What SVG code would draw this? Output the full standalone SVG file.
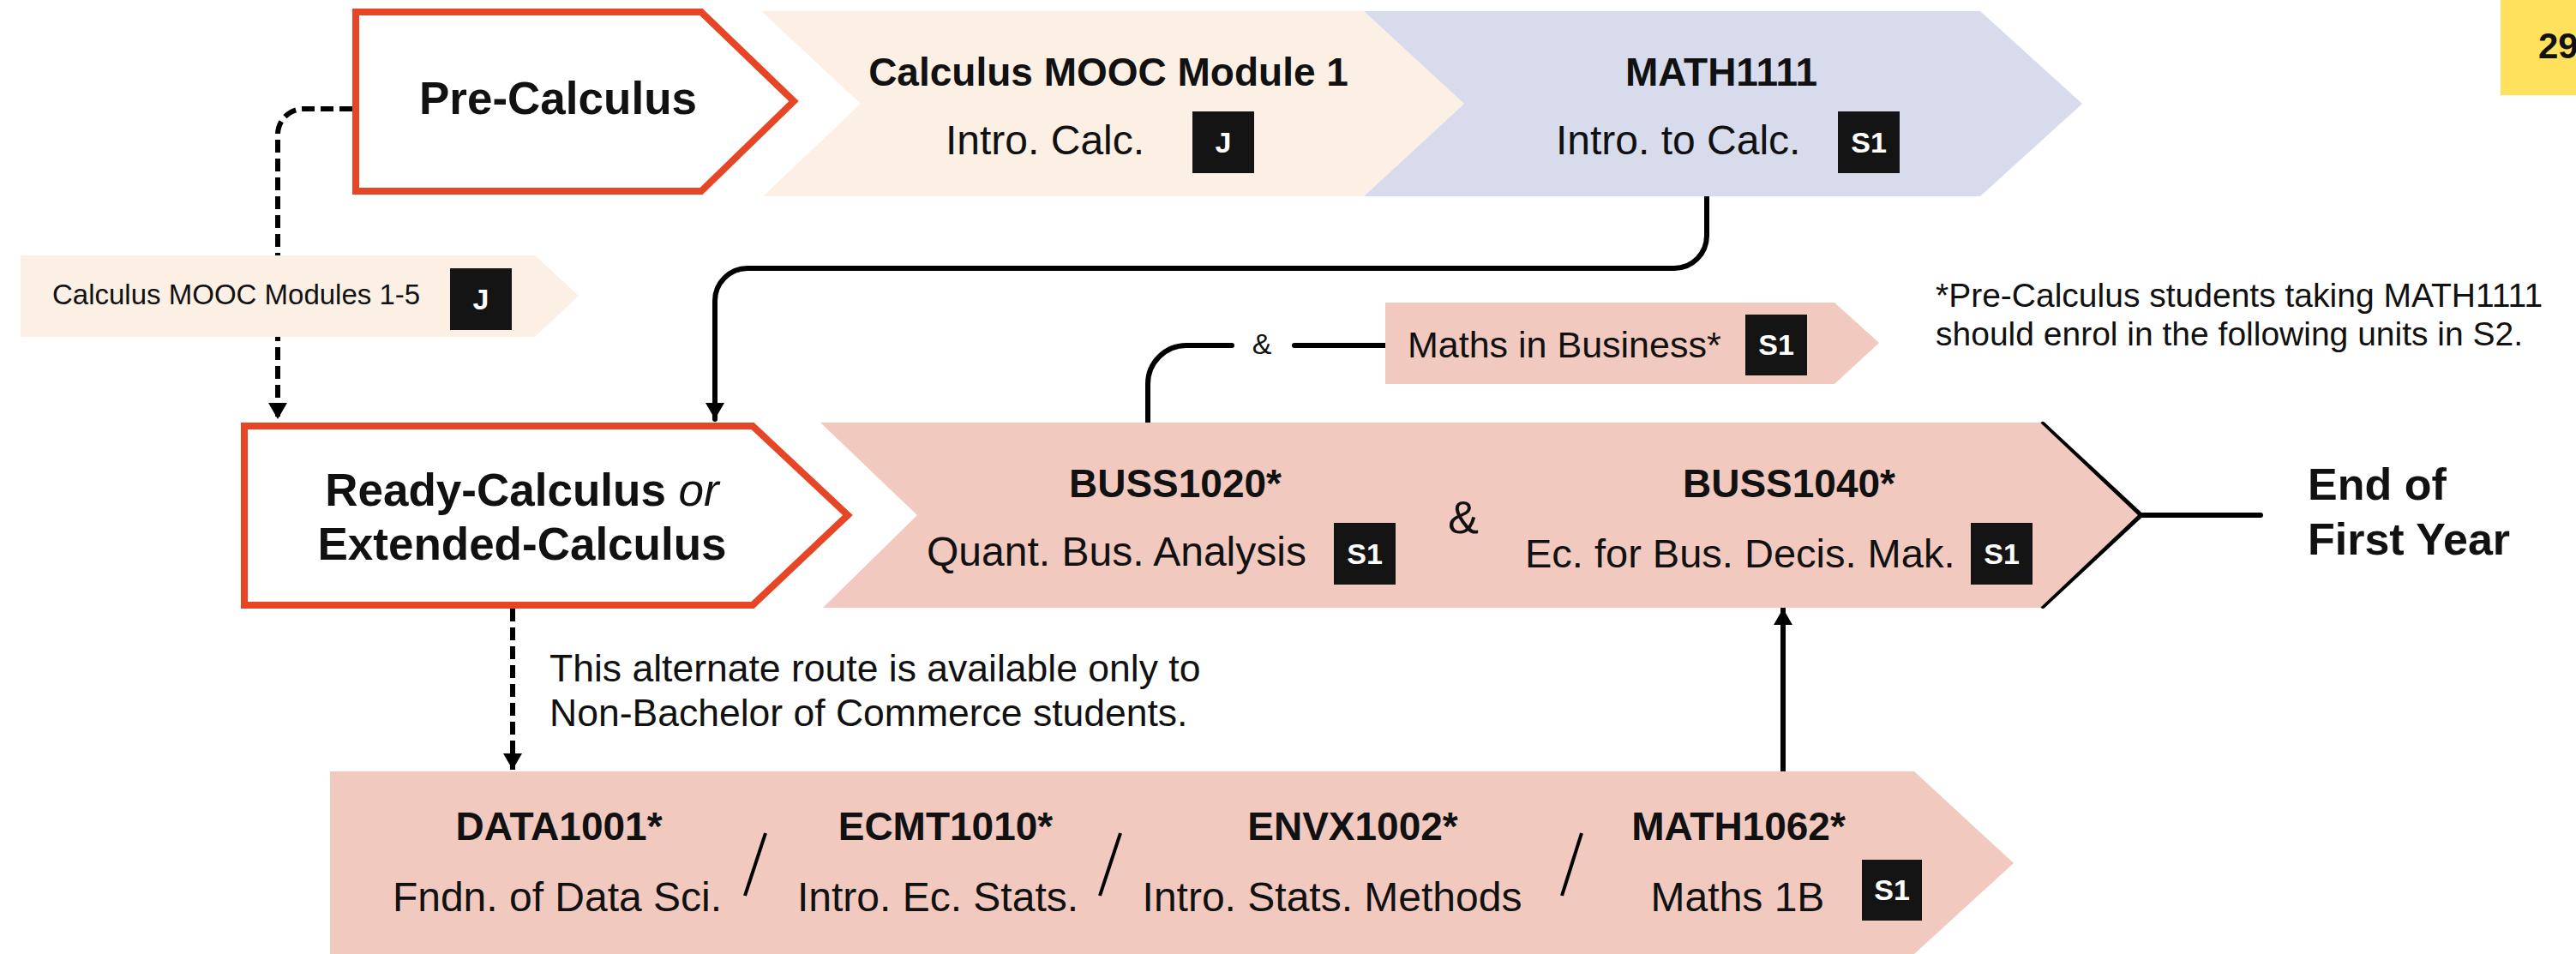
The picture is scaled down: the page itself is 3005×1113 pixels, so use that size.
<svg xmlns="http://www.w3.org/2000/svg" width="3005" height="1113" viewBox="0 0 3005 1113">
<style>
text{font-family:"Liberation Sans",Arial,sans-serif;fill:#111}
.b{font-weight:bold}
.h{font-weight:bold;font-size:46px;text-anchor:middle}
.big{font-weight:bold;font-size:53px;text-anchor:middle}
.sub{font-size:48px}
.mid{text-anchor:middle}
.badge{fill:#141414}
.bt{fill:#fff;font-weight:bold;font-size:34px;text-anchor:middle}
.peach{fill:#FCEFE4}
.lav{fill:#D7DBEB}
.pink{fill:#F1C9BF}
.ochre{fill:#fff;stroke:#E64626;stroke-width:8;stroke-linejoin:miter}
.ln{fill:none;stroke:#000;stroke-width:6;stroke-linecap:round;stroke-linejoin:round}
.dash{fill:none;stroke:#000;stroke-width:6;stroke-dasharray:15 7}
.sl{stroke:#000;stroke-width:4}
</style>
<defs>
<marker id="ah" markerUnits="userSpaceOnUse" markerWidth="20" markerHeight="24" viewBox="0 0 20 24" refX="19" refY="12" orient="auto">
<path d="M0,1 L19,12 L0,23 z" fill="#000"/>
</marker>
</defs>

<rect x="2917" y="0" width="88" height="111" fill="#FFE15E"/>
<text x="2961" y="68" class="b" font-size="42">29</text>

<g id="connectors">
<path class="dash" d="M411,127 H354 A30,30 0 0 0 324,157 V489" marker-end="url(#ah)"/>
<path class="ln" d="M1991,229 V275 A38,38 0 0 1 1953,313 H872 A38,38 0 0 0 834,351 V489" marker-end="url(#ah)"/>
<path class="ln" d="M1616,403 H1510 M1437,403 H1384 A45,45 0 0 0 1339,448 V493"/>
<text x="1472" y="413" class="mid" font-size="34">&amp;</text>
<path class="dash" d="M598,710 V898" marker-end="url(#ah)"/>
<path class="ln" d="M2080,900 V710" marker-end="url(#ah)"/>
<polyline class="ln" points="2383,495 2497,601 2383,707"/>
<path class="ln" d="M2497,601 H2637"/>
</g>

<g id="pre-calculus">
<polygon class="ochre" points="415,14 818,14 926,118 818,223 415,223"/>
<text x="651" y="133" class="big">Pre-Calculus</text>
</g>

<g id="mooc-module-1">
<polygon class="peach" points="888,13 1591,13 1708,121 1591,229 890,229 1004,121"/>
<text x="1293" y="100" class="h" font-size="45">Calculus MOOC Module 1</text>
<text x="1103" y="180" class="sub">Intro. Calc.</text>
<rect class="badge" x="1391" y="130" width="72" height="72"/>
<text x="1427" y="178" class="bt">J</text>
</g>

<g id="math1111">
<polygon class="lav" points="1591,13 2310,13 2429,121 2310,229 1591,229 1708,121"/>
<text x="2008" y="100" class="h" font-size="47">MATH1111</text>
<text x="1815" y="180" class="sub">Intro. to Calc.</text>
<rect class="badge" x="2144" y="130" width="72" height="72"/>
<text x="2180" y="178" class="bt">S1</text>
</g>

<g id="mooc-modules-1-5">
<polygon class="peach" points="24,298 624,298 675,345 624,393 24,393"/>
<text x="61" y="355" font-size="33">Calculus MOOC Modules 1-5</text>
<rect class="badge" x="525" y="313" width="72" height="72"/>
<text x="561" y="361" class="bt">J</text>
</g>

<g id="maths-in-business">
<polygon class="pink" points="1616,353 2140,353 2192,400 2140,448 1616,448"/>
<text x="1642" y="417" font-size="43">Maths in Business*</text>
<rect class="badge" x="2036" y="367" width="72" height="71"/>
<text x="2072" y="414" class="bt">S1</text>
</g>

<g id="footnote">
<text x="2258" y="358" font-size="39">*Pre-Calculus students taking MATH1111</text>
<text x="2258" y="403" font-size="39">should enrol in the following units in S2.</text>
</g>

<g id="ready-calculus">
<polygon class="ochre" points="285,497 878,497 989,601 878,706 285,706"/>
<text x="609" y="590" class="big">Ready-Calculus <tspan font-weight="normal" font-style="italic">or</tspan></text>
<text x="609" y="653" class="big">Extended-Calculus</text>
</g>

<g id="buss">
<polygon class="pink" points="957,493 2380,493 2494,601 2380,709 960,709 1070,601"/>
<text x="1371" y="580" class="h">BUSS1020*</text>
<text x="1081" y="660" class="sub">Quant. Bus. Analysis</text>
<rect class="badge" x="1556" y="610" width="72" height="72"/>
<text x="1592" y="658" class="bt">S1</text>
<text x="1707" y="622" class="mid" font-size="54">&amp;</text>
<text x="2087" y="580" class="h">BUSS1040*</text>
<text x="1779" y="662" font-size="47">Ec. for Bus. Decis. Mak.</text>
<rect class="badge" x="2299" y="610" width="72" height="72"/>
<text x="2335" y="658" class="bt">S1</text>
</g>

<g id="end-of-first-year">
<text x="2692" y="583" class="b" font-size="52">End of</text>
<text x="2692" y="647" class="b" font-size="52">First Year</text>
</g>

<g id="alternate-note">
<text x="641" y="795" font-size="44.5">This alternate route is available only to</text>
<text x="641" y="847" font-size="44.5">Non-Bachelor of Commerce students.</text>
</g>

<g id="alternate-units">
<polygon class="pink" points="385,900 2233,900 2349,1007 2233,1113 385,1113"/>
<text x="652" y="980" class="h">DATA1001*</text>
<text x="650" y="1063" class="sub mid">Fndn. of Data Sci.</text>
<line class="sl" x1="893" y1="972" x2="869" y2="1045"/>
<text x="1103" y="980" class="h">ECMT1010*</text>
<text x="1094" y="1063" class="sub mid">Intro. Ec. Stats.</text>
<line class="sl" x1="1307" y1="972" x2="1283" y2="1045"/>
<text x="1578" y="980" class="h">ENVX1002*</text>
<text x="1554" y="1063" class="sub mid">Intro. Stats. Methods</text>
<line class="sl" x1="1845" y1="972" x2="1822" y2="1045"/>
<text x="2028" y="980" class="h">MATH1062*</text>
<text x="2027" y="1063" class="sub mid">Maths 1B</text>
<rect class="badge" x="2172" y="1003" width="70" height="71"/>
<text x="2207" y="1050" class="bt">S1</text>
</g>
</svg>
